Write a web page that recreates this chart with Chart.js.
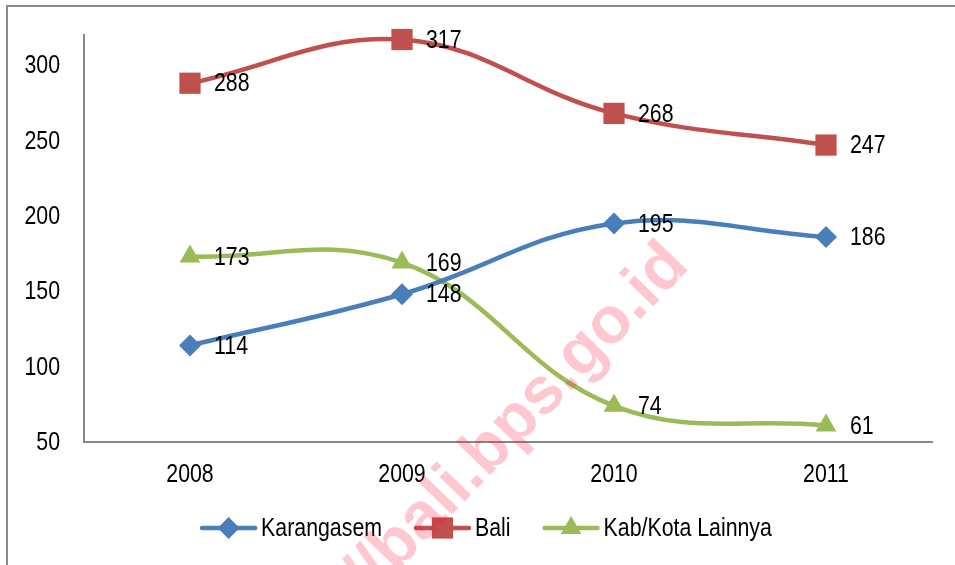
<!DOCTYPE html>
<html>
<head>
<meta charset="utf-8">
<script src="https://cdn.jsdelivr.net/npm/chart.js@4.4.1/dist/chart.umd.min.js"></script>
<style>
  html, body { margin: 0; padding: 0; background: #fff; }
  #wrap { position: relative; width: 955px; height: 565px; }
</style>
</head>
<body>
<div id="wrap"><canvas id="chart" width="955" height="565"></canvas></div>
<script>
// Chart data
const years = ['2008', '2009', '2010', '2011'];
const karangasem = [114, 148, 195, 186];
const bali = [288, 317, 268, 247];
const lainnya = [173, 169, 74, 61];
const yTicks = [50, 100, 150, 200, 250, 300];
const seriesNames = ['Karangasem', 'Bali', 'Kab/Kota Lainnya'];
const watermarkText = 'http://bali.bps.go.id';

// No Arial Narrow here: squeeze Liberation Sans horizontally instead
const FONT = "26px 'Liberation Sans', Arial, sans-serif";
const NARROW = 0.82;
const AXIS_GREY = '#868686';

const colors = {
  blue: '#4a7ebb',
  red: '#c0504d',
  green: '#9bbb59',
};

function narrowText(ctx, text, x, y, align) {
  ctx.save();
  ctx.font = FONT;
  ctx.fillStyle = '#000';
  ctx.textBaseline = 'middle';
  ctx.textAlign = align;
  ctx.translate(x, y);
  ctx.scale(NARROW, 1);
  ctx.fillText(text, 0, 0);
  ctx.restore();
}

function narrowWidth(ctx, text) {
  ctx.save();
  ctx.font = FONT;
  const w = ctx.measureText(text).width * NARROW;
  ctx.restore();
  return w;
}

// Outer frame of the picture
const framePlugin = {
  id: 'frame',
  beforeDraw(chart) {
    const ctx = chart.ctx;
    ctx.save();
    ctx.fillStyle = '#fff';
    ctx.fillRect(0, 0, chart.width, chart.height);
    ctx.strokeStyle = '#8c8c8c';
    ctx.lineWidth = 2;
    ctx.strokeRect(7, 6, 1000, 1000);
    ctx.restore();
  }
};

// Tick labels, placed from the chart's own scales
const tickLabelPlugin = {
  id: 'tickLabels',
  afterDraw(chart) {
    const ctx = chart.ctx;
    const xs = chart.scales.x;
    const ys = chart.scales.y;
    ys.ticks.forEach((t, i) => {
      narrowText(ctx, String(t.value), ys.right - 24, ys.getPixelForTick(i) + 1, 'right');
    });
    xs.ticks.forEach((t, i) => {
      narrowText(ctx, xs.getLabelForValue(t.value), xs.getPixelForTick(i), xs.top + 33, 'center');
    });
  }
};

// Value labels to the right of every point
const valueLabelPlugin = {
  id: 'valueLabels',
  afterDatasetsDraw(chart) {
    const ctx = chart.ctx;
    chart.data.datasets.forEach((ds, i) => {
      const meta = chart.getDatasetMeta(i);
      meta.data.forEach((pt, j) => {
        narrowText(ctx, String(ds.data[j]), pt.x + 24, pt.y + 1, 'left');
      });
    });
  }
};

function drawMarker(ctx, style, x, y, r) {
  ctx.beginPath();
  if (style === 'rectRot') {
    ctx.moveTo(x, y - r);
    ctx.lineTo(x + r, y);
    ctx.lineTo(x, y + r);
    ctx.lineTo(x - r, y);
  } else if (style === 'rect') {
    const s = r * Math.SQRT1_2;
    ctx.rect(x - s, y - s, 2 * s, 2 * s);
  } else {
    ctx.moveTo(x, y - r);
    ctx.lineTo(x + r * 0.866, y + r * 0.5);
    ctx.lineTo(x - r * 0.866, y + r * 0.5);
  }
  ctx.closePath();
  ctx.fill();
}

// Legend: line sample with marker, then series name
const lineLegendPlugin = {
  id: 'lineLegend',
  afterDraw(chart) {
    const ctx = chart.ctx;
    const lineLen = 57, textGap = 4, itemGap = 32;
    const sets = chart.data.datasets;
    let total = 0;
    sets.forEach((ds, i) => {
      total += lineLen + textGap + narrowWidth(ctx, ds.label);
      if (i < sets.length - 1) total += itemGap;
    });
    let x = 486 - total / 2;
    const y = 528;
    sets.forEach(ds => {
      ctx.save();
      ctx.strokeStyle = ds.borderColor;
      ctx.fillStyle = ds.borderColor;
      ctx.lineWidth = 4.5;
      ctx.lineCap = 'round';
      ctx.beginPath();
      ctx.moveTo(x + 2, y);
      ctx.lineTo(x + lineLen - 2, y);
      ctx.stroke();
      drawMarker(ctx, ds.pointStyle, x + lineLen / 2, y, ds.pointRadius);
      ctx.restore();
      narrowText(ctx, ds.label, x + lineLen + textGap, y + 1, 'left');
      x += lineLen + textGap + narrowWidth(ctx, ds.label) + itemGap;
    });
  }
};

// Diagonal watermark
const watermarkPlugin = {
  id: 'watermark',
  afterDraw(chart) {
    const ctx = chart.ctx;
    ctx.save();
    ctx.translate(268, 705);
    ctx.rotate(-46 * Math.PI / 180);
    ctx.font = "bold 66px 'Liberation Sans', Arial, sans-serif";
    ctx.fillStyle = 'rgba(255, 20, 60, 0.24)';
    ctx.textAlign = 'left';
    ctx.textBaseline = 'alphabetic';
    ctx.fillText(watermarkText, 0, 0);
    ctx.restore();
  }
};

function makeSet(label, data, color, style, radius) {
  return {
    label: label,
    data: data,
    borderColor: color,
    backgroundColor: color,
    borderWidth: 4.5,
    pointStyle: style,
    pointRadius: radius,
    pointBorderWidth: 0,
    pointBackgroundColor: color,
    tension: 0.4,
    fill: false,
    clip: false,
  };
}

new Chart(document.getElementById('chart'), {
  type: 'line',
  data: {
    labels: years,
    datasets: [
      makeSet(seriesNames[0], karangasem, colors.blue, 'rectRot', 11),
      makeSet(seriesNames[1], bali, colors.red, 'rect', 15),
      makeSet(seriesNames[2], lainnya, colors.green, 'triangle', 12),
    ],
  },
  options: {
    responsive: false,
    animation: false,
    devicePixelRatio: 1,
    layout: {
      padding: { top: 35, right: 23, left: 0, bottom: 0 }
    },
    plugins: {
      legend: { display: false },
      tooltip: { enabled: false },
    },
    scales: {
      x: {
        type: 'category',
        offset: true,
        grid: { display: false, drawTicks: false },
        border: { display: true, color: AXIS_GREY, width: 2 },
        ticks: { display: false },
        afterFit(scale) { scale.height = 123; },
      },
      y: {
        min: 50,
        max: 320,
        grid: { display: false, drawTicks: false },
        border: { display: true, color: AXIS_GREY, width: 2 },
        afterBuildTicks(scale) {
          scale.ticks = yTicks.map(v => ({ value: v }));
        },
        ticks: { display: false },
        afterFit(scale) { scale.width = 84; },
      },
    },
  },
  plugins: [framePlugin, valueLabelPlugin, tickLabelPlugin, lineLegendPlugin, watermarkPlugin],
});
</script>
</body>
</html>
